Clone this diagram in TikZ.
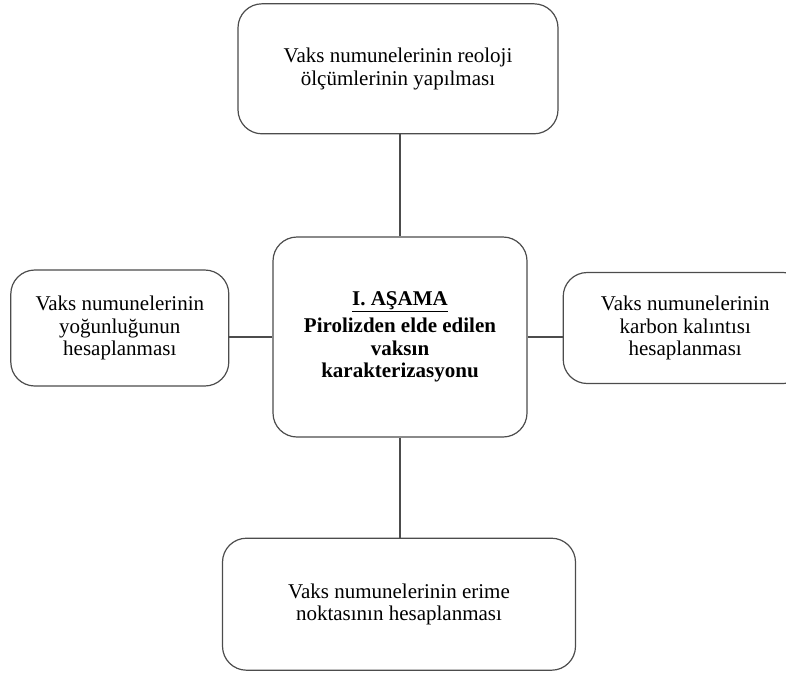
\documentclass[tikz,border=0pt]{standalone}
\usepackage{fontspec}
\setmainfont{Liberation Serif}
\usepackage{tikz}
\usetikzlibrary{positioning}

\begin{document}
\begin{tikzpicture}[
  x=1pt, y=1pt,
  task/.style={
    rectangle,
    draw=black!70,
    line width=1.2pt,
    rounded corners=24pt,
    align=center,
    inner sep=0pt,
    font=\fontsize{21}{22.5}\selectfont,
  },
  stage/.style={
    task,
    font=\fontsize{21}{22.5}\selectfont\bfseries,
    minimum width=254pt,
    minimum height=200pt,
  },
  link/.style={draw=black!70, line width=1.2pt}
]
\useasboundingbox (0,0) rectangle (786,-673);

% ===== CENTRAL STAGE =====
\node[stage] (s1) at (400,-337) {
  \underline{I. AŞAMA}\\[5pt]
  Pirolizden elde edilen\\
  vaksın\\
  karakterizasyonu
};

% ===== MEASUREMENT TASKS AROUND IT =====
\node[task, minimum width=320pt, minimum height=130pt, above=102pt of s1, xshift=-2pt] (rheo) {
  Vaks numunelerinin reoloji\\
  ölçümlerinin yapılması
};

\node[task, minimum width=218pt, minimum height=116pt, left=43pt of s1, yshift=9pt] (dens) {
  Vaks numunelerinin\\
  yoğunluğunun\\
  hesaplanması
};

\node[task, minimum width=244pt, minimum height=111pt, right=35pt of s1, yshift=9pt] (carb) {
  Vaks numunelerinin\\
  karbon kalıntısı\\
  hesaplanması
};

\node[task, minimum width=353pt, minimum height=132pt, below=100pt of s1, xshift=-1pt] (melt) {
  Vaks numunelerinin erime\\
  noktasının hesaplanması
};

% ===== CONNECTORS =====
\draw[link] (s1.north) -- (s1.north |- rheo.south);
\draw[link] (s1.west) -- (s1.west -| dens.east);
\draw[link] (s1.east) -- (s1.east -| carb.west);
\draw[link] (s1.south) -- (s1.south |- melt.north);

\end{tikzpicture}
\end{document}
